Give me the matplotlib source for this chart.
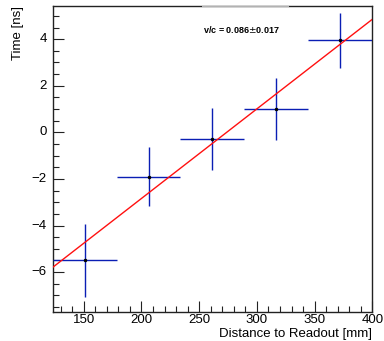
import numpy as np
import matplotlib.pyplot as plt
from matplotlib.ticker import MultipleLocator

plt.rcParams['font.family'] = ['Liberation Sans', 'DejaVu Sans']

# Data
distance = [150.7, 206.1, 261.5, 316.9, 372.3]      # mm
distance_err = [27.7, 27.7, 27.7, 27.7, 27.7]
time = [-5.49, -1.90, -0.30, 1.00, 3.96]             # ns
time_err = [1.56, 1.25, 1.33, 1.33, 1.18]

# linear fit parameters (time = p0 + p1 * distance)
fit_p0 = -10.53
fit_p1 = 0.03846
fit_label = 'v/c = 0.086$\\pm$0.017'

fig = plt.figure(figsize=(3.84, 3.41), dpi=100)
ax = fig.add_axes([0.137, 0.086, 0.8325, 0.896])

ax.errorbar(distance, time, xerr=distance_err, yerr=time_err, fmt='o',
            ms=1.5, mfc='black', mec='black', ecolor='#0a1eb4',
            elinewidth=1.0, capsize=0, zorder=3)

xfit = np.array([123, 400])
ax.plot(xfit, fit_p0 + fit_p1 * xfit, color='#ff1010', lw=1.0, zorder=4)

ax.set_xlim(123, 400)
ax.set_ylim(-7.7, 5.42)

ax.xaxis.set_major_locator(MultipleLocator(50))
ax.xaxis.set_minor_locator(MultipleLocator(10))
ax.yaxis.set_major_locator(MultipleLocator(2))
ax.yaxis.set_minor_locator(MultipleLocator(0.5))
ax.tick_params(which='both', direction='in', top=False, right=False,
               labelsize=9, width=0.8, color='#222222')
ax.tick_params(which='major', length=8, pad=3)
ax.tick_params(which='minor', length=4)
ax.set_xticklabels([])
ax.set_yticklabels([])
for v in range(150, 401, 50):
    ax.text(v, -7.7 - 0.1, str(v), ha='center', va='top', fontsize=9.5,
            transform=ax.transData, clip_on=False)
for v in range(-6, 5, 2):
    ax.text(118, v, str(v).replace('-', '\u2212'), ha='right', va='center',
            fontsize=9.5, clip_on=False)

for s in ax.spines.values():
    s.set_linewidth(1.0)
    s.set_color('#222222')

ax.set_xlabel('Distance to Readout [mm]', fontsize=9.5, loc='right',
              labelpad=8)
ax.set_ylabel('Time [ns]', fontsize=9.5, loc='top', labelpad=17)

# white pave box hiding part of the top frame
ax.plot([0.468, 0.738], [1.0, 1.0], transform=ax.transAxes, color='#d0d0d0',
        lw=1.2, clip_on=False, zorder=6, solid_capstyle='butt')
ax.text(0.59, 0.925, fit_label, transform=ax.transAxes, ha='center',
        va='center', fontsize=6.5, fontweight='bold')

fig.savefig('out.png', dpi=100)
